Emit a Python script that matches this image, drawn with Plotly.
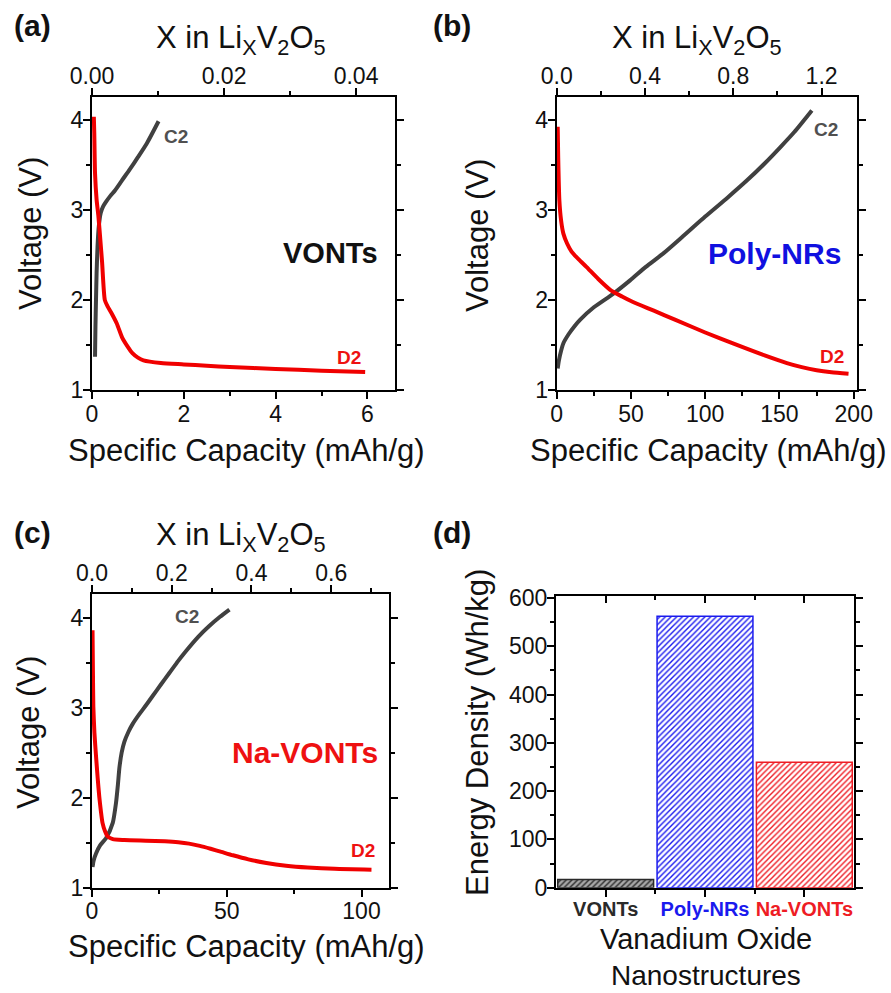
import plotly.graph_objects as go

W, H = 891, 993

# ---------------- data ----------------
# (a) VONTs
a_d2_x = [0.04, 0.05, 0.066, 0.10, 0.14, 0.18, 0.22, 0.28, 0.34, 0.42, 0.54, 0.66, 0.78, 0.88, 1.0, 1.12, 1.5, 2.0, 2.5, 3.0, 4.0, 5.0, 5.95]
a_d2_y = [4.04, 3.85, 3.41, 3.12, 2.93, 2.68, 2.42, 2.00, 1.93, 1.86, 1.74, 1.58, 1.48, 1.41, 1.36, 1.33, 1.30, 1.285, 1.27, 1.255, 1.235, 1.215, 1.20]
a_c2_x = [0.066, 0.075, 0.087, 0.10, 0.12, 0.15, 0.19, 0.24, 0.30, 0.40, 0.50, 0.65, 0.83, 1.0, 1.19, 1.45]
a_c2_y = [1.37, 1.70, 2.00, 2.30, 2.59, 2.83, 2.97, 3.04, 3.09, 3.16, 3.22, 3.33, 3.46, 3.59, 3.74, 3.99]

# (b) Poly-NRs
b_d2_x = [0.67, 1.0, 1.8, 3.0, 4.5, 7, 10, 15, 20, 28, 36, 44, 50, 57, 65, 80, 100, 120, 140, 155, 165, 175, 185, 196.5]
b_d2_y = [3.93, 3.60, 3.11, 2.88, 2.74, 2.63, 2.54, 2.45, 2.37, 2.235, 2.115, 2.04, 1.99, 1.94, 1.885, 1.78, 1.64, 1.51, 1.385, 1.30, 1.255, 1.22, 1.197, 1.18]
b_c2_x = [0.67, 1.5, 3, 4.5, 8, 12, 15.7, 25, 38, 49.4, 60, 71.8, 85, 100, 115, 128, 140, 150.5, 160, 171.8]
b_c2_y = [1.24, 1.33, 1.44, 1.52, 1.62, 1.71, 1.78, 1.92, 2.07, 2.22, 2.37, 2.52, 2.71, 2.93, 3.14, 3.33, 3.52, 3.70, 3.87, 4.11]

# (c) Na-VONTs
c_d2_x = [0.2, 0.35, 0.5, 0.9, 1.5, 2.1, 2.7, 3.3, 3.9, 4.8, 5.8, 7.7, 12, 20, 27, 32, 36, 40, 44, 48, 52.3, 58, 64.7, 72, 80, 90, 103.7]
c_d2_y = [3.86, 3.40, 3.01, 2.72, 2.46, 2.22, 2.01, 1.85, 1.72, 1.63, 1.57, 1.54, 1.53, 1.522, 1.515, 1.505, 1.49, 1.465, 1.433, 1.398, 1.36, 1.315, 1.275, 1.245, 1.225, 1.21, 1.20]
c_c2_x = [0.2, 0.6, 1.5, 3, 5.2, 7.7, 8.9, 9.6, 10.2, 11, 12, 13.5, 15.1, 17.5, 20.1, 22.5, 25.5, 28.7, 32, 34.9, 39.5, 43.6, 47.5, 51]
c_c2_y = [1.23, 1.30, 1.38, 1.47, 1.55, 1.72, 1.94, 2.14, 2.34, 2.50, 2.62, 2.73, 2.82, 2.925, 3.03, 3.13, 3.255, 3.385, 3.52, 3.63, 3.79, 3.91, 4.01, 4.09]

# (d) energy density
d_categories = ["VONTs", "Poly-NRs", "Na-VONTs"]
d_values = [17, 562, 260]
d_colors = ["#2a2a2a", "#1a1aee", "#ee1c24"]
d_bg = ["#a8a8a8", "#ffffff", "#ffffff"]

# ---------------- style ----------------
FONT = "Arial, Liberation Sans, sans-serif"
RED = "#f00000"
GRAY = "#404040"
BLACK = "#111111"


def px(x):
    return x / W


def py(y):
    return 1 - y / H


fig = go.Figure()

line_kw = dict(mode="lines", showlegend=False, hoverinfo="skip")
spl = dict(shape="spline", smoothing=0.6, width=4)

fig.add_trace(go.Scatter(x=a_c2_x, y=a_c2_y, line=dict(color=GRAY, **spl), xaxis="x", yaxis="y", **line_kw))
fig.add_trace(go.Scatter(x=a_d2_x, y=a_d2_y, line=dict(color=RED, **spl), xaxis="x", yaxis="y", **line_kw))
fig.add_trace(go.Scatter(x=b_c2_x, y=b_c2_y, line=dict(color=GRAY, **spl), xaxis="x2", yaxis="y2", **line_kw))
fig.add_trace(go.Scatter(x=b_d2_x, y=b_d2_y, line=dict(color=RED, **spl), xaxis="x2", yaxis="y2", **line_kw))
fig.add_trace(go.Scatter(x=c_c2_x, y=c_c2_y, line=dict(color=GRAY, **spl), xaxis="x3", yaxis="y3", **line_kw))
fig.add_trace(go.Scatter(x=c_d2_x, y=c_d2_y, line=dict(color=RED, **spl), xaxis="x3", yaxis="y3", **line_kw))

for i, (cat, val, col, bgc) in enumerate(zip(d_categories, d_values, d_colors, d_bg)):
    fig.add_trace(go.Bar(
        x=[i], y=[val], width=0.965, name=cat,
        marker=dict(color=bgc, line=dict(color=col, width=1.5),
                    pattern=dict(shape="/", fgcolor=col, bgcolor=bgc, size=4, solidity=0.35)),
        xaxis="x4", yaxis="y4", showlegend=False, hoverinfo="skip"))

# empty traces so the secondary (top) axes are drawn
for xa, ya in [("x5", "y"), ("x6", "y2"), ("x7", "y3"), ("x8", "y4")]:
    fig.add_trace(go.Scatter(x=[], y=[], xaxis=xa, yaxis=ya, mode="lines", showlegend=False, hoverinfo="skip"))

tickfont = dict(family=FONT, size=23, color=BLACK)
common = dict(showline=True, linewidth=2, linecolor="black", ticks="outside", ticklen=7, tickwidth=2,
              tickcolor="black", showgrid=False, zeroline=False, tickfont=tickfont, ticklabelstandoff=-5,
              automargin=False, tickangle=0)
minor_kw = dict(ticklen=4, tickwidth=2, tickcolor="black", showgrid=False)

dom_a_x = [px(92), px(395)]
dom_b_x = [px(556.7), px(856.7)]
dom_c_x = [px(92), px(389)]
dom_d_x = [px(556), px(854)]
dom_top_y = [py(390), py(97)]
dom_c_y = [py(887.7), py(594.3)]
dom_d_y = [py(887.7), py(596)]

yv = dict(range=[1, 4.26], tickvals=[1, 2, 3, 4], mirror="ticks",
          minor=dict(tickvals=[1.5, 2.5, 3.5], **minor_kw), **common)

fig.update_layout(
    template="none",
    width=W, height=H, margin=dict(l=0, r=0, t=0, b=0, pad=0), autosize=False,
    paper_bgcolor="white", plot_bgcolor="white",
    font=dict(family=FONT, color=BLACK),
    barmode="overlay",
    # (a)
    xaxis=dict(domain=dom_a_x, anchor="y", range=[0, 6.6], tickvals=[0, 2, 4, 6],
               minor=dict(tickvals=[1, 3, 5], **minor_kw), **common),
    yaxis=dict(domain=dom_top_y, anchor="x", **yv),
    xaxis5=dict(overlaying="x", anchor="y", side="top", range=[0, 0.0459], tickvals=[0, 0.02, 0.04],
                tickformat=".2f", minor=dict(tickvals=[0.01, 0.03], **minor_kw), **common),
    # (b)
    xaxis2=dict(domain=dom_b_x, anchor="y2", range=[0, 202], tickvals=[0, 50, 100, 150, 200],
                minor=dict(tickvals=[25, 75, 125, 175], **minor_kw), **common),
    yaxis2=dict(domain=dom_top_y, anchor="x2", **yv),
    xaxis6=dict(overlaying="x2", anchor="y2", side="top", range=[0, 1.359], tickvals=[0, 0.4, 0.8, 1.2],
                tickformat=".1f", minor=dict(tickvals=[0.2, 0.6, 1.0], **minor_kw), **common),
    # (c)
    xaxis3=dict(domain=dom_c_x, anchor="y3", range=[0, 110.2], tickvals=[0, 50, 100],
                minor=dict(tickvals=[25, 75], **minor_kw), **common),
    yaxis3=dict(domain=dom_c_y, anchor="x3", **yv),
    xaxis7=dict(overlaying="x3", anchor="y3", side="top", range=[0, 0.745], tickvals=[0, 0.2, 0.4, 0.6],
                tickformat=".1f", minor=dict(tickvals=[0.1, 0.3, 0.5, 0.7], **minor_kw), **common),
    # (d)
    xaxis4=dict(domain=dom_d_x, anchor="y4", range=[-0.5, 2.5], tickvals=[0, 1, 2],
                ticktext=[f"<b><span style='color:{c}'>{t}</span></b>" for t, c in zip(d_categories, d_colors)],
                minor=dict(tickvals=[0.5, 1.5], **minor_kw),
                **{**common, "tickfont": dict(family=FONT, size=20, color=BLACK)}),
    yaxis4=dict(domain=dom_d_y, anchor="x4", range=[0, 604], tickvals=[0, 100, 200, 300, 400, 500, 600],
                mirror="ticks", minor=dict(tickvals=[50, 150, 250, 350, 450, 550], **minor_kw), **common),
    xaxis8=dict(overlaying="x4", anchor="y4", side="top", range=[-0.5, 2.5], tickvals=[0, 1, 2],
                showticklabels=False, minor=dict(tickvals=[0.5, 1.5], ticks="inside", **minor_kw),
                **{**common, "ticks": "inside"}),
)

ann = []


def text(x, y, s, size=30, color=BLACK, bold=False, angle=0, yanchor="middle"):
    if bold:
        s = f"<b>{s}</b>"
    ann.append(dict(x=px(x), y=py(y), xref="paper", yref="paper", text=s, showarrow=False,
                    xanchor="center", yanchor=yanchor, textangle=angle,
                    font=dict(family=FONT, size=size, color=color)))


top_title = "X in Li<sub>X</sub>V<sub>2</sub>O<sub>5</sub>"
cap_title = "Specific Capacity (mAh/g)"

# panel labels
text(32, 26, "(a)", 30, BLACK, True)
text(452, 26, "(b)", 30, BLACK, True)
text(32, 532, "(c)", 30, BLACK, True)
text(452, 532, "(d)", 30, BLACK, True)

# axis titles
text(241, 40, top_title, 31)
text(697, 40, top_title, 31)
text(241, 537, top_title, 31)
text(246, 450, cap_title, 31)
text(708, 450, cap_title, 31)
text(246, 946, cap_title, 31)
text(30, 234, "Voltage (V)", 31, angle=-90)
text(478, 236, "Voltage (V)", 31, angle=-90)
text(28, 733, "Voltage (V)", 31, angle=-90)
text(477, 733, "Energy Density (Wh/kg)", 31, angle=-90)
text(706, 957, "Vanadium Oxide", 29, yanchor="bottom")
text(706, 993, "Nanostructures", 28, yanchor="bottom")

# in-plot labels
text(330, 253, "VONTs", 29, BLACK, True)
text(774, 253, "Poly-NRs", 30, "#1010e0", True)
text(305, 752, "Na-VONTs", 30, "#ee1111", True)
for (x, y) in [(176, 136), (826, 129), (187, 616)]:
    text(x, y, "C2", 19, "#505050", True)
for (x, y) in [(349, 357), (832, 356), (363, 850)]:
    text(x, y, "D2", 19, "#ee1111", True)

fig.update_layout(annotations=ann)
fig.write_html("out.html", config={"displayModeBar": False},
               post_script="document.body.style.margin='0';document.body.style.padding='0';"
                           "document.body.style.overflow='hidden';")
